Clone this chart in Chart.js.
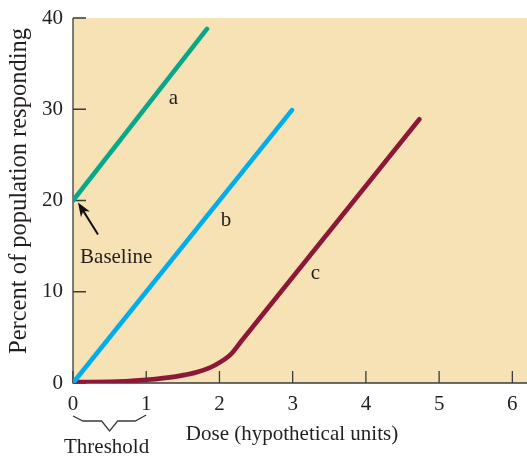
<!DOCTYPE html>
<html>
<head>
<meta charset="utf-8">
<script src="https://cdn.jsdelivr.net/npm/chart.js@4.4.1/dist/chart.umd.min.js"></script>
<style>
  html, body { margin: 0; padding: 0; background: #ffffff; }
  #wrap { width: 527px; height: 456px; }
</style>
</head>
<body>
<div id="wrap"><canvas id="dose_chart"></canvas></div>
<script>
// Dose-response curves a, b, c (dose in hypothetical units, % responding)
const curveA = [[0, 20], [1.83, 38.8]];
const curveB = [[0, 0], [2.99, 29.9]];
const curveC = [[0.05, 0.1], [0.5, 0.12], [1, 0.35], [1.4, 0.7], [1.7, 1.2],
                [1.95, 2.0], [2.15, 3.1], [2.3, 4.6], [4.73, 28.9]];
const xTicks = [0, 1, 2, 3, 4, 5, 6];
const yTicks = [0, 10, 20, 30, 40];

const serif = '"Liberation Serif", "Times New Roman", serif';
const inkColor = '#231f20';

function toPoints(arr) {
    return arr.map(p => ({ x: p[0], y: p[1] }));
}

// Draws the tan plot background, the inward tick marks and the annotations
const decorations = {
    id: 'decorations',
    beforeDatasetsDraw(chart) {
        const { ctx, chartArea: area, scales: { x, y } } = chart;
        ctx.save();
        ctx.fillStyle = '#f6e2b4';
        ctx.fillRect(area.left, area.top, area.right - area.left, area.bottom - area.top);

        // axis lines
        ctx.strokeStyle = '#3b3b3b';
        ctx.lineWidth = 1.3;
        ctx.beginPath();
        ctx.moveTo(area.left, area.top);
        ctx.lineTo(area.left, area.bottom);
        ctx.lineTo(area.right, area.bottom);
        ctx.stroke();

        // inward ticks
        ctx.beginPath();
        xTicks.forEach(v => {
            const px = x.getPixelForValue(v);
            ctx.moveTo(px, area.bottom);
            ctx.lineTo(px, area.bottom - 12);
        });
        yTicks.forEach(v => {
            const py = y.getPixelForValue(v);
            ctx.moveTo(area.left, py);
            ctx.lineTo(area.left + 13, py);
        });
        ctx.stroke();
        ctx.restore();
    },
    afterDraw(chart) {
        const { ctx, scales: { x, y } } = chart;
        ctx.save();
        ctx.fillStyle = inkColor;
        ctx.textAlign = 'center';
        ctx.textBaseline = 'middle';
        ctx.font = '21px ' + serif;

        // curve labels
        ctx.fillText('a', x.getPixelForValue(1.37), y.getPixelForValue(31.2));
        ctx.fillText('b', x.getPixelForValue(2.09), y.getPixelForValue(17.8));
        ctx.fillText('c', x.getPixelForValue(3.31), y.getPixelForValue(12.0));
        ctx.fillText('Baseline', x.getPixelForValue(0.59), y.getPixelForValue(13.8));

        // arrow pointing to the baseline
        const tipX = x.getPixelForValue(0) + 5, tipY = y.getPixelForValue(20) + 2;
        const tailX = tipX + 20, tailY = tipY + 32;
        const ang = Math.atan2(tipY - tailY, tipX - tailX);
        ctx.strokeStyle = '#111111';
        ctx.lineWidth = 2;
        ctx.beginPath();
        ctx.moveTo(tailX, tailY);
        ctx.lineTo(tipX - 9 * Math.cos(ang), tipY - 9 * Math.sin(ang));
        ctx.stroke();
        ctx.fillStyle = '#111111';
        ctx.beginPath();
        ctx.moveTo(tipX, tipY);
        ctx.lineTo(tipX - 15 * Math.cos(ang - 0.36), tipY - 15 * Math.sin(ang - 0.36));
        ctx.lineTo(tipX - 10 * Math.cos(ang), tipY - 10 * Math.sin(ang));
        ctx.lineTo(tipX - 15 * Math.cos(ang + 0.36), tipY - 15 * Math.sin(ang + 0.36));
        ctx.closePath();
        ctx.fill();

        // threshold brace under 0..1
        const x0 = x.getPixelForValue(0), x1 = x.getPixelForValue(1);
        const mid = (x0 + x1) / 2;
        ctx.strokeStyle = '#3b3b3b';
        ctx.lineWidth = 1.3;
        ctx.beginPath();
        ctx.moveTo(x0, 416);
        ctx.lineTo(x0 + 10, 421);
        ctx.lineTo(mid - 8, 421);
        ctx.lineTo(mid, 431);
        ctx.lineTo(mid + 8, 421);
        ctx.lineTo(x1 - 11, 421);
        ctx.lineTo(x1, 415);
        ctx.stroke();

        ctx.fillStyle = inkColor;
        ctx.fillText('Threshold', mid - 3, 447);

        // axis titles
        ctx.fillText('Dose (hypothetical units)', 292, 434);
        ctx.save();
        ctx.translate(20, 191);
        ctx.rotate(-Math.PI / 2);
        ctx.font = '24.5px ' + serif;
        ctx.fillText('Percent of population responding', 0, 0);
        ctx.restore();
        ctx.restore();
    }
};

const lineStyle = { borderWidth: 4.6, pointRadius: 0, fill: false,
                    borderCapStyle: 'round', borderJoinStyle: 'round' };

new Chart(document.getElementById('dose_chart').getContext('2d'), {
    type: 'line',
    data: {
        datasets: [
            Object.assign({ label: 'a', data: toPoints(curveA), borderColor: '#07a78a' }, lineStyle),
            Object.assign({ label: 'b', data: toPoints(curveB), borderColor: '#00adee' }, lineStyle),
            Object.assign({ label: 'c', data: toPoints(curveC), borderColor: '#8b1838',
                            cubicInterpolationMode: 'monotone' }, lineStyle)
        ]
    },
    options: {
        responsive: true,
        maintainAspectRatio: false,
        animation: false,
        layout: { padding: { top: 18, right: 0, left: 0, bottom: 0 } },
        plugins: { legend: { display: false }, tooltip: { enabled: false } },
        scales: {
            x: {
                type: 'linear',
                min: 0,
                max: 6.2,
                border: { display: false },
                grid: { display: false, drawTicks: false },
                afterFit(scale) { scale.height = 73; },
                afterBuildTicks(scale) { scale.ticks = xTicks.map(v => ({ value: v })); },
                ticks: { color: inkColor, padding: 9, maxRotation: 0,
                         font: { family: serif, size: 21 } }
            },
            y: {
                type: 'linear',
                min: 0,
                max: 40,
                border: { display: false },
                grid: { display: false, drawTicks: false },
                afterFit(scale) { scale.width = 73; },
                afterBuildTicks(scale) { scale.ticks = yTicks.map(v => ({ value: v })); },
                ticks: { color: inkColor, padding: 10,
                         font: { family: serif, size: 21, lineHeight: 0.6 } }
            }
        }
    },
    plugins: [decorations]
});
</script>
</body>
</html>
